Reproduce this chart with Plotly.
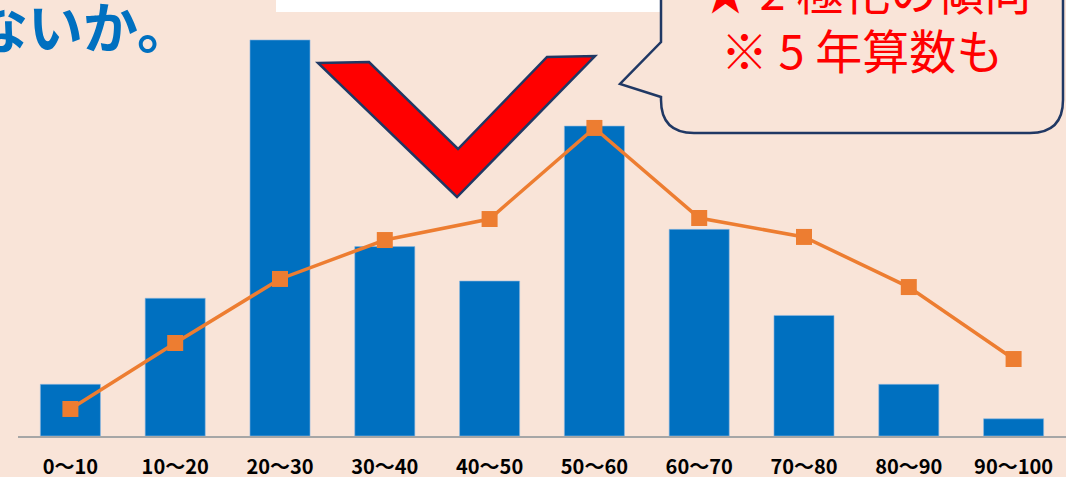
import plotly.graph_objects as go

categories = ["0～10", "10～20", "20～30", "30～40", "40～50",
              "50～60", "60～70", "70～80", "80～90", "90～100"]
bar_values = [3, 8, 23, 11, 9, 18, 12, 7, 3, 1]
line_values = [1.57, 5.40, 9.12, 11.38, 12.60, 17.89, 12.66, 11.56, 8.65, 4.47]

BG = "#F9E4D8"
W, H = 1066, 477
L, R, T, B = 18, 0, 0, 41
PW, PH = W - L - R, H - T - B

def px(x):
    return (x - L) / PW

def py(y):
    return (PH + T - y) / PH

fig = go.Figure()
fig.add_trace(go.Bar(
    x=categories, y=bar_values,
    marker=dict(color="#0070C0", line=dict(color="#8FB9E0", width=0.6)),
    showlegend=False,
))
fig.add_trace(go.Scatter(
    x=categories, y=line_values, mode="lines+markers",
    line=dict(color="#ED7D31", width=3.5),
    marker=dict(symbol="square", size=16, color="#ED7D31"),
    showlegend=False,
))

shapes = []
# white box at top
shapes.append(dict(type="rect", xref="paper", yref="paper",
                   x0=px(276), x1=px(663), y0=py(12), y1=py(-5),
                   fillcolor="white", line=dict(width=0), layer="above"))
# speech bubble
r = 33
pts = [
    f"M{px(661)},{py(-10)}",
    f"L{px(661)},{py(42)}",
    f"L{px(620)},{py(84)}",
    f"L{px(661)},{py(97)}",
    f"L{px(661)},{py(133 - r)}",
    f"Q{px(661)},{py(133)} {px(661 + r)},{py(133)}",
    f"L{px(1063 - r)},{py(133)}",
    f"Q{px(1063)},{py(133)} {px(1063)},{py(133 - r)}",
    f"L{px(1063)},{py(-10)}",
]
shapes.append(dict(type="path", xref="paper", yref="paper", path=" ".join(pts),
                   fillcolor=BG, line=dict(color="#203864", width=2.5), layer="above"))
# check mark
chk = [(318, 63), (369, 62), (458, 149), (547, 57), (595, 56), (457, 197)]
path = "M" + " L".join(f"{px(a)},{py(b)}" for a, b in chk) + " Z"
shapes.append(dict(type="path", xref="paper", yref="paper", path=path,
                   fillcolor="#FF0000", line=dict(color="#203864", width=2.5), layer="above"))

annotations = [
    dict(text="ないか。", xref="paper", yref="paper", x=px(194), y=py(24),
         xanchor="right", yanchor="middle", showarrow=False,
         font=dict(family="Noto Sans CJK JP", size=55, color="#0070C0", weight="bold")),
    dict(text="★ 2 極化の傾向", xref="paper", yref="paper", x=px(866), y=py(-11),
         xanchor="center", yanchor="middle", showarrow=False,
         font=dict(family="Noto Sans CJK JP", size=47, color="#FF0000")),
    dict(text="※ 5 年算数も", xref="paper", yref="paper", x=px(862), y=py(48),
         xanchor="center", yanchor="middle", showarrow=False,
         font=dict(family="Noto Sans CJK JP", size=47, color="#FF0000")),
]

fig.update_layout(
    width=W, height=H,
    margin=dict(l=L, r=R, t=T, b=B, autoexpand=False),
    paper_bgcolor=BG, plot_bgcolor=BG,
    bargap=0.427,
    shapes=shapes, annotations=annotations,
    xaxis=dict(showline=True, linecolor="#A6A6A6", linewidth=1.5, automargin=False,
               range=[-0.5, len(categories) - 0.5],
               showgrid=False, ticks="", ticklabelstandoff=12,
               tickfont=dict(family="Noto Sans CJK JP", size=20, color="#000000", weight="bold")),
    yaxis=dict(range=[0, 25.32], visible=False, showgrid=False, automargin=False),
)
fig.write_html("out.html", config={"displayModeBar": False})

with open("out.html", encoding="utf-8") as f:
    html = f.read()
html = html.replace("<head>", "<head><style>html,body{margin:0;padding:0;overflow:hidden;}</style>", 1)
with open("out.html", "w", encoding="utf-8") as f:
    f.write(html)
